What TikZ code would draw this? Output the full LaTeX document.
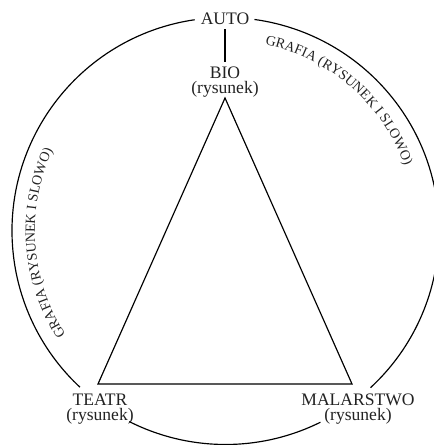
\documentclass[tikz,border=0pt]{standalone}
\usepackage{fontspec}
\setmainfont{Liberation Serif}
\usetikzlibrary{decorations.text}
\definecolor{inkgray}{HTML}{222222}
\tikzset{
  lbl/.style={align=center, inner sep=4pt, text=inkgray, font=\fontsize{15}{13}\selectfont},
  ring/.style={line width=1pt, black},
  edge/.style={line width=1pt, black},
  arctext/.style={decorate, decoration={text along path, text align=center,
    text color=inkgray, text={|\fontsize{12}{12}\selectfont|GRAFIA (RYSUNEK I SLOWO)}}}
}
\begin{document}
\begin{tikzpicture}[x=0.3mm, y=0.3mm]
\useasboundingbox (0,0) rectangle (433,445);

% ===== POINTS =====
\coordinate (C)   at (225.5,214);
\coordinate (TOP) at (225,347);
\coordinate (BL)  at (98,61);
\coordinate (BR)  at (352,61);

% ===== LABELS =====
\node[lbl] (AUTO)  at (225,426.5) {AUTO};
\node[lbl] (BIO)   at (225,363)   {BIO\\(rysunek)};
\node[lbl] (TEATR) at (100,36)    {TEATR\\(rysunek)};
\node[lbl] (MAL)   at (358,36)    {MALARSTWO\\(rysunek)};

% ===== CIRCLE =====
\draw[ring] (C) ++(98.3:64.05mm) arc[start angle=98.3, end angle=227, radius=64.05mm];
\draw[ring] (C) ++(243.2:64.05mm) arc[start angle=243.2, end angle=296.4, radius=64.05mm];
\draw[ring] (C) ++(312.8:64.05mm) arc[start angle=312.8, end angle=442.2, radius=64.05mm];

% ===== TRIANGLE =====
\draw[edge] (TOP) -- (BL) -- (BR) -- cycle;
\draw[edge] (AUTO) -- (BIO);

% ===== CURVED TEXT =====
\path[arctext] (C) ++(80:57.2mm) arc[start angle=80, end angle=18, radius=57.2mm];
\path[arctext] (C) ++(215:57.2mm) arc[start angle=215, end angle=153, radius=57.2mm];

\end{tikzpicture}
\end{document}
